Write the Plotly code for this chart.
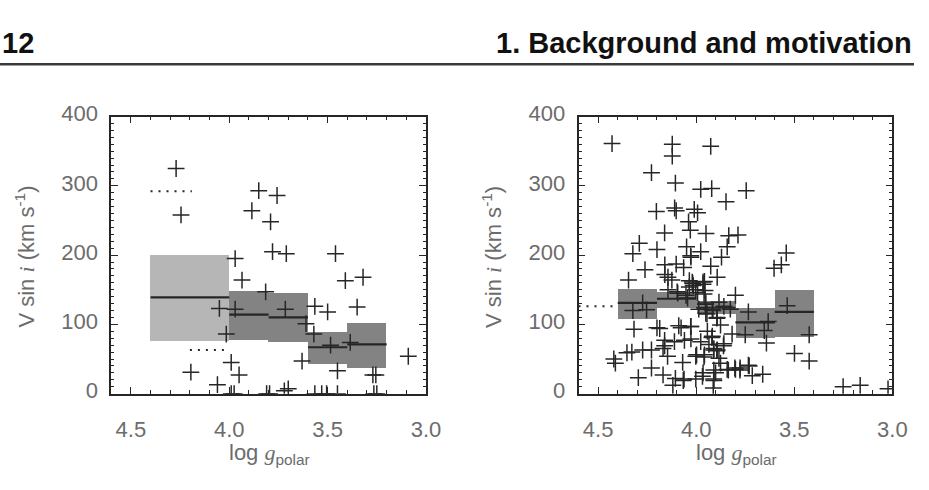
import plotly.graph_objects as go

W, H = 929, 490

# ---------------- data ----------------
# Left panel: log g_polar vs V sin i
left_logg = [4.27, 4.245, 3.85, 3.757, 3.885, 3.79, 3.78, 3.71, 3.46, 3.97, 3.935, 3.815,
             3.41, 3.32, 4.05, 3.97, 3.715, 3.565, 3.50, 3.35, 3.61, 4.015, 3.57, 3.485,
             3.385, 3.09, 3.99, 3.63, 4.195, 3.95, 3.45, 3.27, 3.255, 4.06, 3.70, 3.72,
             3.99, 3.975, 3.81, 3.795, 3.565, 3.53, 3.505, 3.45, 3.265, 3.25]
left_vsini = [325, 258, 293, 286, 264, 248, 205, 202, 202, 195, 164, 147,
              163, 168, 123, 122, 122, 126, 118, 125, 101, 86, 86, 70,
              74, 54, 45, 47, 31, 27, 33, 27, 27, 13, 7, 4,
              0, 0, 0, 0, 0, 0, 0, 0, 0, 0]

left_bin_lo = [4.4, 4.0, 3.8, 3.6, 3.4]
left_bin_hi = [4.0, 3.8, 3.6, 3.4, 3.2]
left_q_lo = [76, 78, 75, 44, 38]
left_q_hi = [201, 149, 146, 89, 103]
left_median = [139, 114, 110, 67, 71]
left_box_colors = ["#b6b6b6", "#838383", "#838383", "#838383", "#838383"]

left_dot_x = [[4.4, 4.19], [4.2, 4.0]]
left_dot_v = [292, 63]

# Right panel
right_logg = [4.429, 4.122, 4.122, 3.926, 4.228, 4.106, 3.977, 3.921, 3.745, 3.848, 4.203,
              4.11, 4.102, 4.01, 3.993, 4.039, 4.03, 4.161, 3.95, 3.834, 3.787, 4.29, 4.323,
              4.2, 4.049, 3.977, 4.027, 3.842, 3.871, 3.541, 3.603, 3.566, 4.261, 4.16, 4.102,
              4.064, 3.926, 4.345, 4.16, 4.144, 4.018, 4.035, 3.965, 3.893, 3.993, 4.094, 3.96,
              4.044, 3.8, 4.273, 4.323, 4.253, 3.951, 3.884, 3.859, 3.826, 3.918, 3.951, 3.893,
              3.734, 3.633, 3.536, 4.317, 4.2, 4.186, 4.089, 4.077, 4.027, 3.876, 3.943, 3.817,
              3.75, 3.653, 3.642, 3.424, 3.499, 3.424, 4.161, 4.161, 4.111, 4.06, 4.027, 3.977,
              3.918, 3.935, 4.169, 3.91, 3.859, 3.893, 3.884, 3.876, 4.353, 4.328, 4.273, 4.228,
              4.42, 4.412, 4.069, 4.002, 3.96, 4.228, 4.295, 4.169, 4.106, 4.066, 4.002, 3.968,
              3.91, 3.901, 3.91, 3.842, 3.8, 3.776, 3.734, 3.714, 3.661, 4.119, 3.913, 3.251,
              3.164, 3.022,
              4.144, 4.097, 4.052, 4.035, 4.015, 3.965, 3.955, 4.028, 3.958, 4.003, 3.953,
              3.915, 3.945, 3.895, 3.987, 4.028, 3.92, 3.911, 3.861, 3.895, 4.146, 3.998,
              3.958, 4.062, 3.965, 3.911, 3.836, 3.803, 3.777, 3.73, 4.124, 4.02]
right_vsini = [361, 360, 343, 357, 319, 304, 295, 296, 293, 277, 263,
               268, 264, 266, 261, 248, 236, 232, 231, 228, 229, 217, 202,
               208, 212, 205, 197, 212, 197, 203, 181, 186, 179, 186, 187,
               182, 184, 164, 172, 168, 159, 154, 158, 168, 146, 145, 144,
               138, 142, 131, 120, 121, 131, 132, 126, 122, 121, 116, 110,
               118, 104, 127, 93, 95, 94, 98, 95, 97, 99, 90, 86,
               85, 91, 73, 85, 58, 47, 77, 69, 75, 77, 79, 75,
               83, 71, 65, 65, 72, 63, 51, 44, 59, 60, 63, 63,
               50, 44, 45, 54, 53, 37, 23, 27, 22, 19, 21, 25,
               34, 30, 19, 35, 35, 37, 41, 26, 28, 12, 8, 10,
               12, 7,
               150, 147, 142, 163, 156, 161, 149, 199, 162, 150, 129,
               120, 115, 109, 122, 97, 81, 63, 69, 62, 54, 56,
               56, 21, 30, 21, 34, 37, 34, 40, 164, 161]

right_bin_lo = [4.4, 4.2, 4.0, 3.8, 3.6]
right_bin_hi = [4.2, 4.0, 3.8, 3.6, 3.4]
right_q_lo = [109, 125, 115, 81, 83]
right_q_hi = [152, 148, 134, 124, 150]
right_median = [131, 137, 124, 103, 118]
right_box_colors = ["#838383"] * 5

right_dot_x = [[4.6, 4.4]]
right_dot_v = [126]

x_tick_vals = [4.5, 4.0, 3.5, 3.0]
x_tick_text = ["4.5", "4.0", "3.5", "3.0"]
y_tick_vals = [0, 100, 200, 300, 400]
y_tick_text = ["0", "100", "200", "300", "400"]

# ---------------- figure ----------------
fig = go.Figure()
TICK_FONT = dict(family="Liberation Sans, Arial, sans-serif", size=22, color="#6c6c6c")
INK = "#262626"


def add_panel(xa, ya, logg, vs, blo, bhi, qlo, qhi, med, colors, dotx, dotv):
    fig.add_trace(go.Bar(
        x=[(a + b) / 2 for a, b in zip(blo, bhi)],
        y=[h - l for l, h in zip(qlo, qhi)],
        base=qlo,
        width=[abs(a - b) for a, b in zip(blo, bhi)],
        marker=dict(color=colors, line=dict(width=0)),
        xaxis=xa, yaxis=ya, showlegend=False, hoverinfo="skip"))
    mx, my = [], []
    for a, b, m in zip(blo, bhi, med):
        mx += [a, b, None]
        my += [m, m, None]
    fig.add_trace(go.Scatter(x=mx, y=my, mode="lines",
                             line=dict(color=INK, width=2.2),
                             xaxis=xa, yaxis=ya, showlegend=False))
    for dx, dv in zip(dotx, dotv):
        fig.add_trace(go.Scatter(x=dx, y=[dv, dv], mode="lines",
                                 line=dict(color=INK, width=2, dash="2px,6px"),
                                 xaxis=xa, yaxis=ya, showlegend=False))
    fig.add_trace(go.Scatter(x=logg, y=vs, mode="markers",
                             marker=dict(symbol="cross-thin", size=12,
                                         line=dict(color=INK, width=1.5)),
                             xaxis=xa, yaxis=ya, showlegend=False))


add_panel("x", "y", left_logg, left_vsini, left_bin_lo, left_bin_hi, left_q_lo,
          left_q_hi, left_median, left_box_colors, left_dot_x, left_dot_v)
add_panel("x2", "y2", right_logg, right_vsini, right_bin_lo, right_bin_hi, right_q_lo,
          right_q_hi, right_median, right_box_colors, right_dot_x, right_dot_v)

top_px, bot_px = 107, 399
ydom = [1 - bot_px / H, 1 - top_px / H]


def xaxis(left, right, anchor):
    return dict(domain=[left / W, right / W], range=[4.6, 3.0], anchor=anchor,
                tickmode="array", tickvals=x_tick_vals, ticktext=x_tick_text,
                ticks="inside", ticklen=7, tickwidth=1.2, tickcolor=INK,
                minor=dict(dtick=0.1, tick0=3.0, ticks="inside", ticklen=3.5,
                           tickwidth=1, tickcolor=INK, showgrid=False),
                showline=True, linewidth=1.6, linecolor=INK, mirror="ticks",
                showgrid=False, zeroline=False, tickfont=TICK_FONT,
                ticklabelstandoff=15, fixedrange=True)


def yaxis(anchor):
    return dict(domain=ydom, range=[0, 400], anchor=anchor,
                tickmode="array", tickvals=y_tick_vals, ticktext=y_tick_text,
                ticks="inside", ticklen=7, tickwidth=1.2, tickcolor=INK,
                minor=dict(dtick=10, tick0=0, ticks="inside", ticklen=3.5,
                           tickwidth=1, tickcolor=INK, showgrid=False),
                showline=True, linewidth=1.6, linecolor=INK, mirror="ticks",
                showgrid=False, zeroline=False, tickfont=TICK_FONT,
                ticklabelstandoff=7, ticklabelshift=-3, fixedrange=True)


serif_i = "<span style=\"font-family:'Liberation Serif'\"><i>i</i></span>"
serif_g = "<span style=\"font-family:'Liberation Serif'\"><i>g</i></span>"
ytitle = "V sin " + serif_i + " (km s<sup>-1</sup>)"
xtitle = "log " + serif_g + "<sub>polar</sub>"
TITLE_FONT = dict(family="Liberation Sans, Arial, sans-serif", size=22, color="#6c6c6c")

annotations = []
for xc in (25, 500):
    annotations.append(dict(text=ytitle, x=xc / W, y=1 - 255 / H, xref="paper", yref="paper",
                            xanchor="center", yanchor="middle", textangle=-90,
                            showarrow=False, font=TITLE_FONT))
for xc in (274, 749):
    annotations.append(dict(text=xtitle, x=xc / W, y=1 - 463 / H, xref="paper", yref="paper",
                            xanchor="center", yanchor="middle",
                            showarrow=False, font=TITLE_FONT))
HEAD_FONT = dict(family="Liberation Sans, Arial, sans-serif", size=29, color="#111111")
annotations.append(dict(text="<b>12</b>", x=0, y=1 - 30 / H, xref="paper", yref="paper",
                        xanchor="left", yanchor="middle", showarrow=False, font=HEAD_FONT))
annotations.append(dict(text="<b>1. Background and motivation</b>", x=1.0, y=1 - 30 / H,
                        xref="paper", yref="paper", xanchor="right", yanchor="middle",
                        showarrow=False, font=HEAD_FONT))

fig.update_layout(
    width=W, height=H, autosize=False,
    margin=dict(l=0, r=0, t=0, b=0, pad=0),
    paper_bgcolor="white", plot_bgcolor="white",
    xaxis=xaxis(113, 433, "y"), yaxis=yaxis("x"),
    xaxis2=xaxis(588, 907, "y2"), yaxis2=yaxis("x2"),
    bargap=0, barmode="overlay",
    annotations=annotations,
    shapes=[dict(type="line", xref="paper", yref="paper", x0=0, x1=1,
                 y0=1 - 52 / H, y1=1 - 52 / H, line=dict(color="#3a3a3a", width=2.5))],
)

fig.write_html("out.html")
